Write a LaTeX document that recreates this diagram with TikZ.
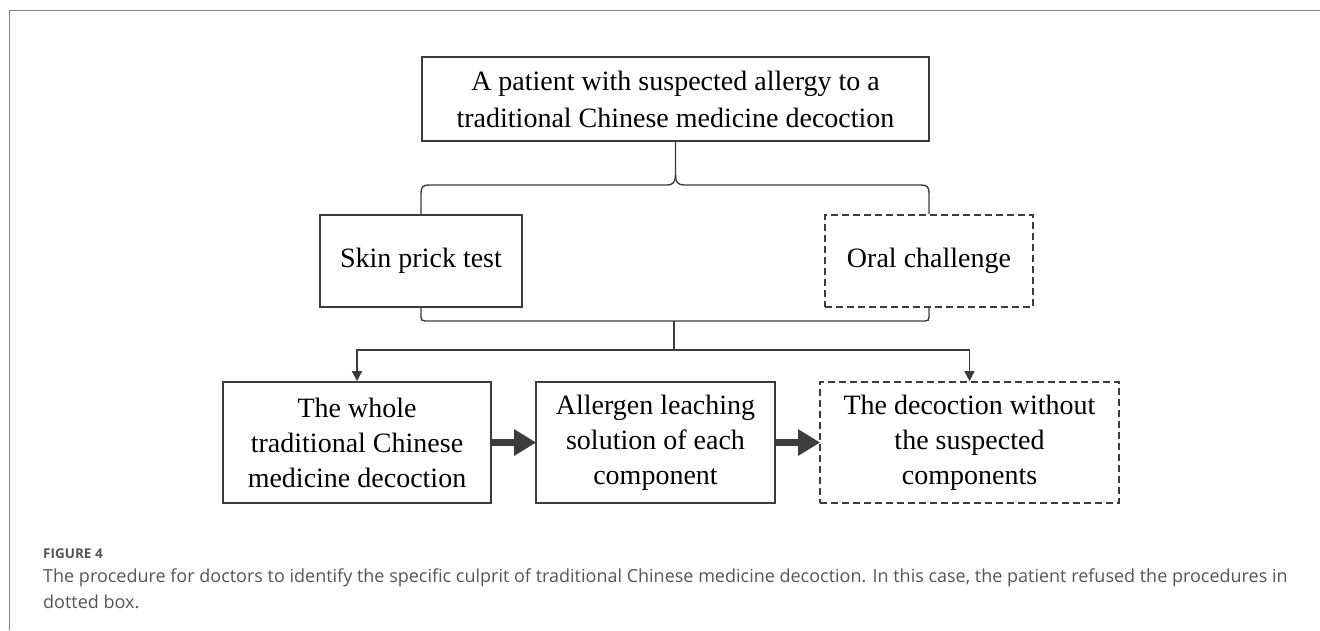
\documentclass[tikz,border=0pt]{standalone}
\usepackage{fontspec}
\setmainfont{Liberation Serif}
\newfontfamily\capfont{Open Sans}
\usetikzlibrary{arrows.meta}
\usetikzlibrary{positioning}
\definecolor{linegray}{RGB}{60,60,60}
\definecolor{framegray}{RGB}{130,130,130}
\definecolor{capgray}{RGB}{85,85,85}
\tikzset{box/.style = {draw=linegray, line width=1.6pt, align=center, inner sep=0pt,
                       font=\fontsize{28}{35}\selectfont}}
\tikzset{dashbox/.style = {box, dash pattern=on 7pt off 4pt}}
\tikzset{link/.style = {draw=linegray, line width=1.4pt}}
\tikzset{linkarrow/.style = {link, -{Triangle[width=10pt,length=10pt]}}}
\tikzset{bigarrow/.style = {draw=linegray, line width=7pt,
                            -{Triangle[width=25pt,length=22pt]}, shorten >=-1pt}}

\begin{document}
\begin{tikzpicture}[x=1pt,y=-1pt]
            \useasboundingbox (0,0) rectangle (1320,630);
            % frame
            \draw[framegray, line width=1pt] (9,630) -- (9,10) -- (1320,10);
            % boxes
            \node[box, minimum width=507pt, minimum height=84pt,
                  font=\fontsize{28}{37}\selectfont] (patient) at (675.5,99)
                {A patient with suspected allergy to a\\traditional Chinese medicine decoction};
            \node[box, minimum width=202pt, minimum height=92pt] (skin) at (421,261) {Skin prick test};
            \node[dashbox, minimum width=208pt, minimum height=92pt] (oral) at (929,261) {Oral challenge};
            \node[box, minimum width=268pt, minimum height=121pt] (whole) at (357,442.5)
                {The whole\\traditional Chinese\\medicine decoction};
            \node[box, minimum width=239pt, minimum height=121pt] (leach) at (655.5,442.5)
                {Allergen leaching\\solution of each\\component};
            \node[dashbox, minimum width=299pt, minimum height=121pt] (without) at (969.5,442.5)
                {The decoction without\\the suspected\\components};
            % braces
            \draw[link] (skin.north) -- (421,193) .. controls (421,187) and (423,185) .. (429,185)
                -- (667,185) .. controls (673,185) and (675.5,182) .. (675.5,175) -- (patient.south);
            \draw[link] (oral.north) -- (929,193) .. controls (929,187) and (927,185) .. (921,185)
                -- (684,185) .. controls (678,185) and (675.5,182) .. (675.5,175);
            \draw[link] (skin.south) -- (421,317) .. controls (421,320) and (422,321) .. (425,321)
                -- (925,321) .. controls (928,321) and (929,320) .. (929,317) -- (oral.south);
            \coordinate (split) at (674,321);
            \coordinate (join) at (674,350);
            \draw[link] (split) -- (join);
            \draw[linkarrow] (join) -| (whole.north);
            \draw[linkarrow] (join) -| (without.north);
            % thick arrows
            \draw[bigarrow] (whole.east) -- (leach.west);
            \draw[bigarrow] (leach.east) -- (without.west);
            % caption
            \node[anchor=base west, inner sep=0pt, text=capgray,
                  font=\capfont\bfseries\fontsize{13.5}{15}\selectfont] (fig) at (43,558) {FIGURE 4};
            \node[anchor=north west, text=capgray, align=left, inner sep=0pt,
                  font=\capfont\fontsize{18}{26}\selectfont] (caption) at (43,569)
                {The procedure for doctors to identify the specific culprit of traditional Chinese medicine decoction. In this case, the patient refused the procedures in\\dotted box.};
        \end{tikzpicture}
\end{document}
